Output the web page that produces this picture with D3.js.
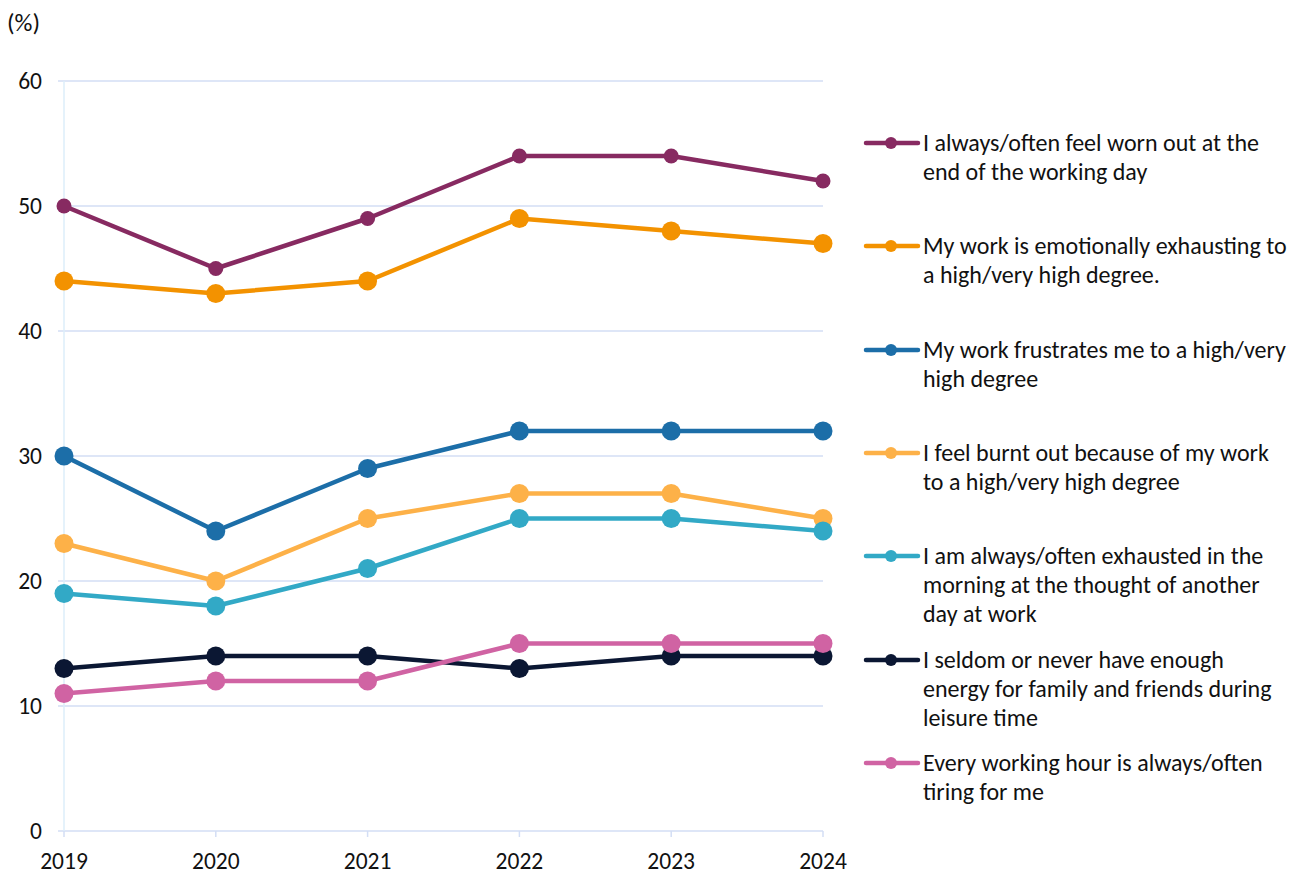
<!DOCTYPE html>
<html><head><meta charset="utf-8">
<script src="https://cdn.jsdelivr.net/npm/d3@7"></script>
<style>
html,body{margin:0;padding:0;background:#fff;}
svg{display:block;font-family:Carlito,Calibri,Lato,"Open Sans",sans-serif;}
</style></head>
<body><svg id="c" width="1301" height="874"></svg>
<script>
const years = [2019, 2020, 2021, 2022, 2023, 2024];
const yTicks = [0, 10, 20, 30, 40, 50, 60];
const wornOut = [50, 45, 49, 54, 54, 52];
const emotional = [44, 43, 44, 49, 48, 47];
const frustrates = [30, 24, 29, 32, 32, 32];
const burntOut = [23, 20, 25, 27, 27, 25];
const morning = [19, 18, 21, 25, 25, 24];
const energy = [13, 14, 14, 13, 14, 14];
const everyHour = [11, 12, 12, 15, 15, 15];
const labels = [
  ["I always/often feel worn out at the", "end of the working day"],
  ["My work is emotionally exhausting to", "a high/very high degree."],
  ["My work frustrates me to a high/very", "high degree"],
  ["I feel burnt out because of my work", "to a high/very high degree"],
  ["I am always/often exhausted in the", "morning at the thought of another", "day at work"],
  ["I seldom or never have enough", "energy for family and friends during", "leisure time"],
  ["Every working hour is always/often", "tiring for me"]
];
const colors = ["#872a61", "#f39200", "#1c6ea8", "#fdb148", "#32a9c6", "#0b1733", "#d063a3"];
const radii = [7.5, 9.5, 9.5, 9.5, 9.5, 9.5, 9.5];

const series = [wornOut, emotional, frustrates, burntOut, morning, energy, everyHour].map((v, i) => ({
  values: v, label: labels[i], color: colors[i], r: radii[i]
}));

const FS = 23.5;
const LFS = 24;
const svg = d3.select("#c");
const x = d3.scalePoint().domain(years).range([64, 823]);
const y = d3.scaleLinear().domain([0, 60]).range([831, 81]);

// gridlines
svg.append("g").selectAll("line").data(yTicks).join("line")
  .attr("x1", 58).attr("x2", 823)
  .attr("y1", d => y(d)).attr("y2", d => y(d))
  .attr("stroke", "#d3def5").attr("stroke-width", 1.5);

// y axis line
svg.append("line").attr("x1", 64).attr("x2", 64).attr("y1", 81).attr("y2", 831)
  .attr("stroke", "#ddeefa").attr("stroke-width", 1.5);

// x ticks
svg.append("g").selectAll("line").data(years).join("line")
  .attr("x1", d => x(d)).attr("x2", d => x(d)).attr("y1", 831).attr("y2", 837)
  .attr("stroke", "#d3def5").attr("stroke-width", 1.5);

// y labels
svg.append("g").selectAll("text").data(yTicks).join("text")
  .attr("x", 42).attr("y", d => y(d)).attr("dy", "0.35em")
  .attr("text-anchor", "end").attr("font-size", FS).attr("fill", "#111").text(d => d);

// x labels
svg.append("g").selectAll("text").data(years).join("text")
  .attr("x", d => x(d)).attr("y", 869)
  .attr("text-anchor", "middle").attr("font-size", FS).attr("fill", "#111").text(d => d);

svg.append("text").attr("x", 7).attr("y", 31).attr("font-size", 25).attr("fill", "#111").text("(%)");

const line = d3.line().x((d, i) => x(years[i])).y(d => y(d));

series.forEach(s => {
  const g = svg.append("g");
  g.append("path").attr("d", line(s.values)).attr("fill", "none")
    .attr("stroke", s.color).attr("stroke-width", 4.5).attr("stroke-linejoin", "round");
  g.selectAll("circle").data(s.values).join("circle")
    .attr("cx", (d, i) => x(years[i])).attr("cy", d => y(d)).attr("r", s.r).attr("fill", s.color);
});

// legend
const legY = [143, 246, 350, 453, 556, 660, 763];
series.forEach((s, i) => {
  const g = svg.append("g").attr("transform", `translate(0,${legY[i]})`);
  g.append("line").attr("x1", 866).attr("x2", 918).attr("y1", 0).attr("y2", 0)
    .attr("stroke", s.color).attr("stroke-width", 4.5).attr("stroke-linecap", "round");
  g.append("circle").attr("cx", 891).attr("cy", 0).attr("r", 6).attr("fill", s.color);
  const t = g.append("text").attr("x", 923).attr("y", 0).attr("font-size", LFS).attr("fill", "#111");
  s.label.forEach((ln, j) => {
    t.append("tspan").attr("x", 923).attr("y", j * 29).attr("dy", "0.35em").text(ln);
  });
});
</script></body></html>
